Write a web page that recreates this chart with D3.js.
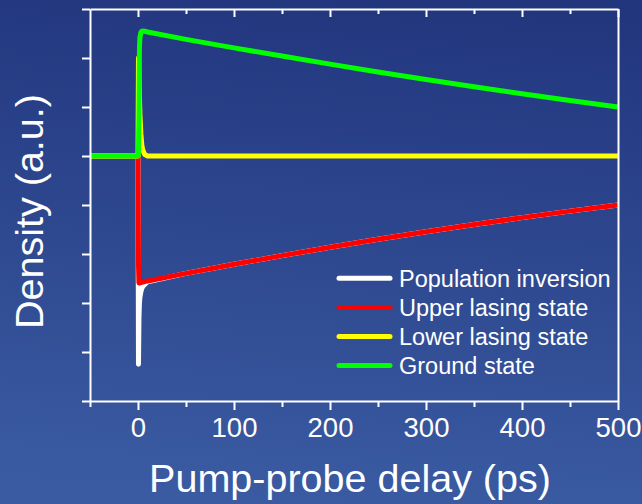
<!DOCTYPE html>
<html>
<head>
<meta charset="utf-8">
<script src="https://cdn.jsdelivr.net/npm/d3@7"></script>
<style>
  html, body { margin: 0; padding: 0; background: #2b4690; }
  svg { display: block; }
  text { font-family: "Liberation Sans", Arial, sans-serif; fill: #ffffff; }
</style>
</head>
<body>
<svg id="chart" width="642" height="504"></svg>
<script>
// ---- data ----
const times =                [-50, 0,    0.5,   1,     1.5,   2,     3,     4,     5,     7,     10,    50,    100,   150,   200,   250,   300,   350,   400,   450,   500];
const populationInversion =  [0,   0,   -4.25, -3.30, -3.00, -2.88, -2.77, -2.70, -2.66, -2.62, -2.57, -2.395,-2.21, -2.033,-1.863,-1.70, -1.545,-1.398,-1.258,-1.125,-1.0];
const upperLasingState =     [0,   0,   -2.2,  -2.59, -2.59, -2.59, -2.585,-2.58, -2.575,-2.565,-2.55, -2.395,-2.21, -2.033,-1.863,-1.70, -1.545,-1.398,-1.258,-1.125,-1.0];
const lowerLasingState =     [0,   0,    2.0,   1.7,   1.2,   0.85,  0.45,  0.22,  0.12,  0.03,  0,     0,     0,     0,     0,     0,     0,     0,     0,     0,     0];
const groundState =          [0,   0,    0.1,   0.8,   2.2,   2.42,  2.52,  2.545, 2.55,  2.545, 2.53,  2.38,  2.206, 2.04,  1.875, 1.716, 1.563, 1.414, 1.271, 1.132, 1.0];

const seriesNames  = ["Population inversion", "Upper lasing state", "Lower lasing state", "Ground state"];
const seriesColors = ["#ffffff", "#ff0000", "#ffff00", "#00ff00"];
const seriesValues = [populationInversion, upperLasingState, lowerLasingState, groundState];

const xMajorTicks = [0, 100, 200, 300, 400, 500];
const xMinorTicks = [-50, 50, 150, 250, 350, 450];
const yTicks = [-5, -4, -3, -2, -1, 0, 1, 2, 3];

const xTitle = "Pump-probe delay (ps)";
const yTitle = "Density (a.u.)";

// ---- chart ----
const svg = d3.select("#chart");
const W = 642, H = 504;
const plot = {left: 90, right: 618, top: 9, bottom: 401};

const defs = svg.append("defs");
const grad = defs.append("linearGradient").attr("id", "bg")
  .attr("x1", "0.55").attr("y1", "0").attr("x2", "0.45").attr("y2", "1");
grad.append("stop").attr("offset", "0").attr("stop-color", "#22367e");
grad.append("stop").attr("offset", "1").attr("stop-color", "#3a5ba2");
svg.append("rect").attr("width", W).attr("height", H).attr("fill", "url(#bg)");

const x = d3.scaleLinear().domain([-50, 500]).range([plot.left, plot.right]);
const y = d3.scaleLinear().domain([-5, 3]).range([plot.bottom, plot.top]);

// series lines
const line = d3.line().x(d => x(d[0])).y(d => y(d[1]));
seriesValues.forEach((vals, i) => {
  const pts = times.map((t, j) => [t, vals[j]]);
  svg.append("path")
    .attr("d", line(pts))
    .attr("fill", "none")
    .attr("stroke", seriesColors[i])
    .attr("stroke-width", 5)
    .attr("stroke-linejoin", "round")
    .attr("stroke-linecap", "butt");
});

// axes
function styleAxis(g) {
  g.selectAll("path.domain").attr("stroke", "#fff").attr("stroke-width", 2);
  g.selectAll(".tick line").attr("stroke", "#fff").attr("stroke-width", 2);
  g.selectAll(".tick text").attr("fill", "#fff");
}

// bottom major with labels
const gB = svg.append("g").attr("transform", `translate(0,${plot.bottom})`)
  .call(d3.axisBottom(x).tickValues(xMajorTicks).tickSize(9).tickSizeOuter(0).tickPadding(7).tickFormat(d3.format("d")));
styleAxis(gB);
gB.selectAll(".tick text").attr("font-size", "27.5px").attr("font-family", "'Liberation Sans', Arial, sans-serif").attr("dy", "0.71em");
// bottom minor
const gBm = svg.append("g").attr("transform", `translate(0,${plot.bottom})`)
  .call(d3.axisBottom(x).tickValues(xMinorTicks).tickSize(6).tickSizeOuter(0).tickFormat(""));
styleAxis(gBm);
gBm.select("path.domain").remove();

// top (inward ticks)
const gT = svg.append("g").attr("transform", `translate(0,${plot.top})`)
  .call(d3.axisTop(x).tickValues(xMajorTicks).tickSize(-8).tickSizeOuter(0).tickFormat(""));
styleAxis(gT);
const gTm = svg.append("g").attr("transform", `translate(0,${plot.top})`)
  .call(d3.axisTop(x).tickValues(xMinorTicks.filter(v => v > -50)).tickSize(-5).tickSizeOuter(0).tickFormat(""));
styleAxis(gTm);
gTm.select("path.domain").remove();

// left (outward ticks, no labels)
const gL = svg.append("g").attr("transform", `translate(${plot.left},0)`)
  .call(d3.axisLeft(y).tickValues(yTicks).tickSize(8).tickSizeOuter(0).tickFormat(""));
styleAxis(gL);

// right (plain line)
const gR = svg.append("g").attr("transform", `translate(${plot.right},0)`)
  .call(d3.axisRight(y).tickValues([]).tickSizeOuter(0));
styleAxis(gR);

// titles
svg.append("text")
  .attr("x", 350).attr("y", 492)
  .attr("text-anchor", "middle")
  .attr("font-size", "39.5px")
  .text(xTitle);

svg.append("text")
  .attr("transform", "translate(43,211.5) rotate(-90)")
  .attr("text-anchor", "middle")
  .attr("font-size", "39.5px")
  .text(yTitle);

// legend
const legend = svg.append("g");
seriesNames.forEach((name, i) => {
  const ly = 278.3 + i * 29.1;
  legend.append("line")
    .attr("x1", 339).attr("x2", 390).attr("y1", ly).attr("y2", ly)
    .attr("stroke", seriesColors[i]).attr("stroke-width", 5)
    .attr("stroke-linecap", "round");
  legend.append("text")
    .attr("x", 399).attr("y", ly + 8.4)
    .attr("font-size", "23.5px")
    .text(name);
});
</script>
</body>
</html>
